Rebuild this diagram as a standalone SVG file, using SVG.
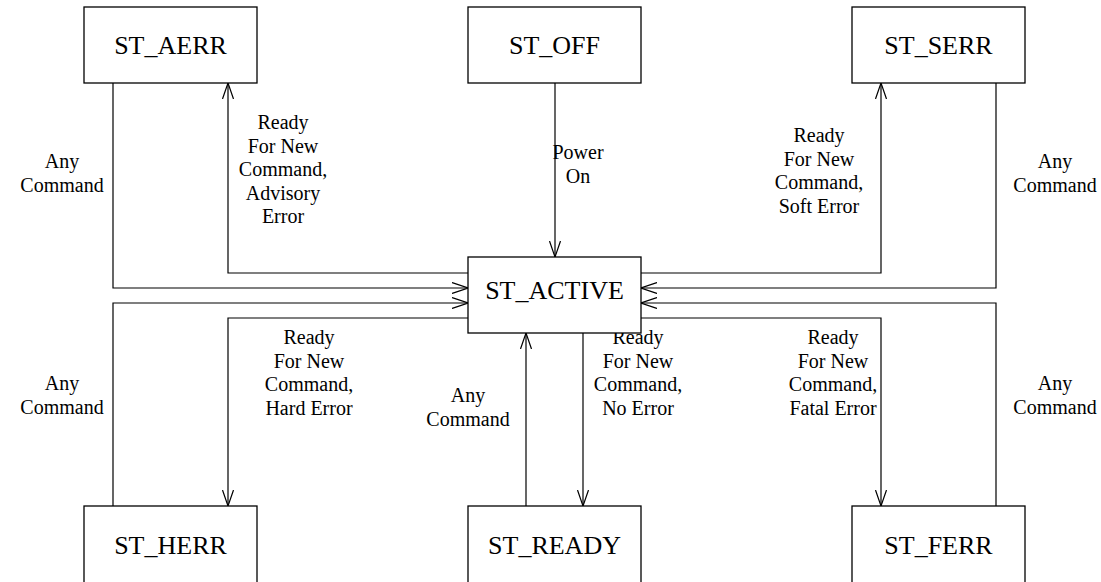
<svg xmlns="http://www.w3.org/2000/svg" width="1101" height="582" viewBox="0 0 1101 582">
<style>
.box{fill:#fff;stroke:#000;stroke-width:1.3}
.bt{font-family:"Liberation Serif",serif;font-size:26px;text-anchor:middle;fill:#000}
.lt{font-family:"Liberation Serif",serif;font-size:20px;text-anchor:middle;fill:#000}
.c{fill:none;stroke:#000;stroke-width:1.2}
</style>
<defs>
<marker id="v" viewBox="0 0 16 12" refX="16" refY="6" markerWidth="16" markerHeight="12" markerUnits="userSpaceOnUse" orient="auto">
<path d="M0,0.5 L16,6 L0,11.5" fill="none" stroke="#000" stroke-width="1.2"/>
</marker>
</defs>
<rect width="1101" height="582" fill="#fff"/>
<g id="connectors">
<path class="c" d="M113,83 V288 H468" marker-end="url(#v)"/>
<path class="c" d="M468,273 H228 V83" marker-end="url(#v)"/>
<path class="c" d="M555,83 V257" marker-end="url(#v)"/>
<path class="c" d="M641,273 H881 V83" marker-end="url(#v)"/>
<path class="c" d="M996,83 V288 H641" marker-end="url(#v)"/>
<path class="c" d="M113,506 V303 H468" marker-end="url(#v)"/>
<path class="c" d="M468,318 H228 V506" marker-end="url(#v)"/>
<path class="c" d="M526,506 V333" marker-end="url(#v)"/>
<path class="c" d="M583,333 V506" marker-end="url(#v)"/>
<path class="c" d="M641,318 H881 V506" marker-end="url(#v)"/>
<path class="c" d="M996,506 V303 H641" marker-end="url(#v)"/>
</g>
<g id="labels">
<text class="lt" x="62" y="168">Any</text><text class="lt" x="62" y="192">Command</text>
<text class="lt" x="283" y="129">Ready</text><text class="lt" x="283" y="152.5">For New</text><text class="lt" x="283" y="176">Command,</text><text class="lt" x="283" y="199.5">Advisory</text><text class="lt" x="283" y="223">Error</text>
<text class="lt" x="578" y="159">Power</text><text class="lt" x="578" y="182.5">On</text>
<text class="lt" x="819" y="142">Ready</text><text class="lt" x="819" y="165.5">For New</text><text class="lt" x="819" y="189">Command,</text><text class="lt" x="819" y="212.5">Soft Error</text>
<text class="lt" x="1055" y="168">Any</text><text class="lt" x="1055" y="192">Command</text>
<text class="lt" x="62" y="390">Any</text><text class="lt" x="62" y="414">Command</text>
<text class="lt" x="309" y="344">Ready</text><text class="lt" x="309" y="367.5">For New</text><text class="lt" x="309" y="391">Command,</text><text class="lt" x="309" y="414.5">Hard Error</text>
<text class="lt" x="468" y="402">Any</text><text class="lt" x="468" y="426">Command</text>
<text class="lt" x="638" y="344">Ready</text><text class="lt" x="638" y="367.5">For New</text><text class="lt" x="638" y="391">Command,</text><text class="lt" x="638" y="414.5">No Error</text>
<text class="lt" x="833" y="344">Ready</text><text class="lt" x="833" y="367.5">For New</text><text class="lt" x="833" y="391">Command,</text><text class="lt" x="833" y="414.5">Fatal Error</text>
<text class="lt" x="1055" y="390">Any</text><text class="lt" x="1055" y="414">Command</text>
</g>
<g id="ST_AERR"><rect class="box" x="84" y="7" width="173" height="76"/><text class="bt" x="170.5" y="54">ST_AERR</text></g>
<g id="ST_OFF"><rect class="box" x="468" y="7" width="173" height="76"/><text class="bt" x="554.5" y="54">ST_OFF</text></g>
<g id="ST_SERR"><rect class="box" x="852" y="7" width="173" height="76"/><text class="bt" x="938.5" y="54">ST_SERR</text></g>
<g id="ST_ACTIVE"><rect class="box" x="468" y="257" width="173" height="76"/><text class="bt" x="554.5" y="299">ST_ACTIVE</text></g>
<g id="ST_HERR"><rect class="box" x="84" y="506" width="173" height="90"/><text class="bt" x="170.5" y="554">ST_HERR</text></g>
<g id="ST_READY"><rect class="box" x="468" y="506" width="173" height="90"/><text class="bt" x="554.5" y="554">ST_READY</text></g>
<g id="ST_FERR"><rect class="box" x="852" y="506" width="173" height="90"/><text class="bt" x="938.5" y="554">ST_FERR</text></g>
</svg>
